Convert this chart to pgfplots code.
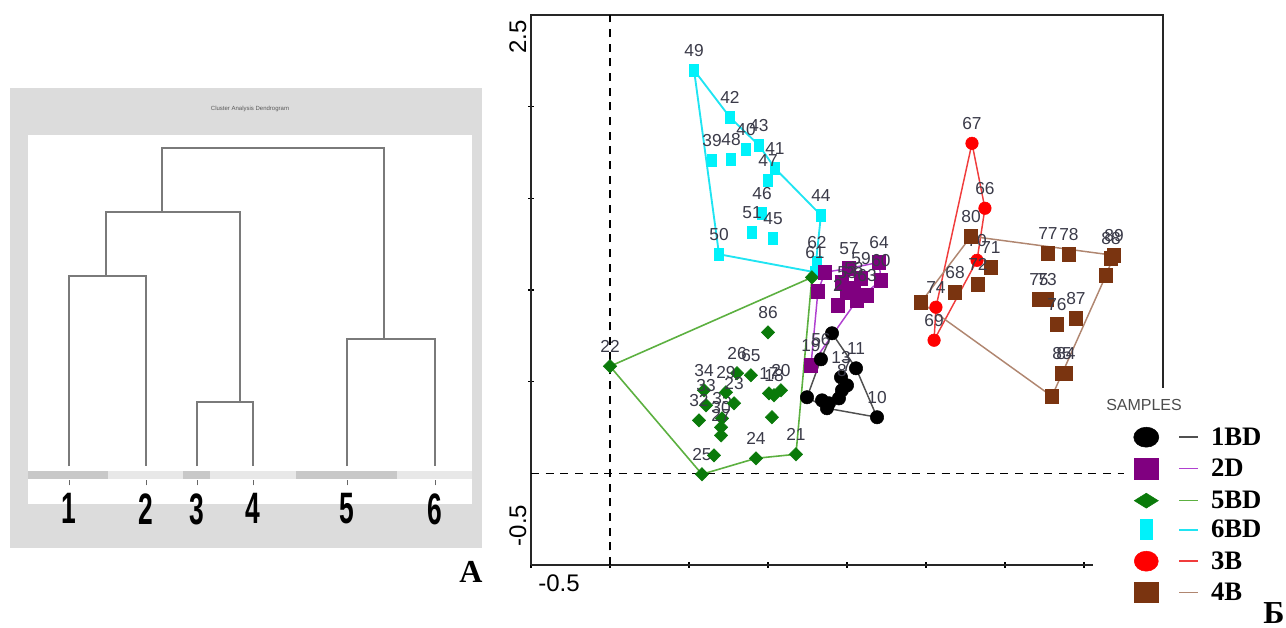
\documentclass[border=0pt]{standalone}
\usepackage{fontspec}
\setmainfont{Liberation Sans}
\newfontfamily\serifb{Liberation Serif}
\usepackage{graphicx}
\usepackage{pgfplots}
\pgfplotsset{compat=1.18}
\definecolor{panelgray}{HTML}{DCDCDC}
\definecolor{bardark}{HTML}{C8C8C8}
\definecolor{barlight}{HTML}{E8E8E8}
\definecolor{dendline}{HTML}{7A7A7A}
\definecolor{pur}{HTML}{800080}
\definecolor{grn}{HTML}{0A7A0A}
\definecolor{cya}{HTML}{00F2FA}
\definecolor{rd}{HTML}{FF0000}
\definecolor{brn}{HTML}{7A3410}
\definecolor{blkline}{HTML}{505050}
\definecolor{purline}{HTML}{B040D0}
\definecolor{grnline}{HTML}{5CB040}
\definecolor{cyaline}{HTML}{20E4F2}
\definecolor{rdline}{HTML}{F03C3C}
\definecolor{brnline}{HTML}{B08670}
\definecolor{labc}{HTML}{3A3A48}
\begin{document}
\begin{tikzpicture}
\useasboundingbox (0pt,0pt) rectangle (964.5pt,-471pt);
% left panel background
\fill[panelgray] (7.5pt,-66pt) rectangle (361.5pt,-411pt);
\fill[white] (21pt,-101.25pt) rectangle (354pt,-378pt);
\node[font=\fontsize{4.5}{5}\selectfont, text=black!65] at (187.5pt,-81.75pt) {Cluster Analysis Dendrogram};
% dendrogram
\begin{axis}[at={(21pt,-360pt)}, anchor=south west, scale only axis,
  width=333pt, height=258.75pt, xmin=0, xmax=444, ymin=0, ymax=345,
  axis line style={draw=none}, ytick=\empty,
  xtick={41,118,169,225,319,407},
  xticklabels={\scalebox{0.6}[1]{1},\scalebox{0.6}[1]{2},\scalebox{0.6}[1]{3},\scalebox{0.6}[1]{4},\scalebox{0.6}[1]{5},\scalebox{0.6}[1]{6}},
  tick pos=left, tick align=outside, major tick length=4pt,
  tick style={black!60, line width=0.7pt},
  xticklabel style={font=\bfseries\fontsize{33}{33}\selectfont, inner sep=0pt, yshift=-6pt},
  clip=false]
\addplot[fill=bardark, draw=none] coordinates {(0,1)(80,1)(80,9)(0,9)} -- cycle;
\addplot[fill=barlight, draw=none] coordinates {(80,1)(155,1)(155,9)(80,9)} -- cycle;
\addplot[fill=bardark, draw=none] coordinates {(155,1)(182,1)(182,9)(155,9)} -- cycle;
\addplot[fill=barlight, draw=none] coordinates {(182,1)(268,1)(268,9)(182,9)} -- cycle;
\addplot[fill=bardark, draw=none] coordinates {(268,1)(369,1)(369,9)(268,9)} -- cycle;
\addplot[fill=barlight, draw=none] coordinates {(369,1)(444,1)(444,9)(369,9)} -- cycle;
\addplot[dendline, line width=1.1pt] coordinates {(41,14)(41,204)(118,204)(118,14)};
\addplot[dendline, line width=1.1pt] coordinates {(169,14)(169,78)(225,78)(225,14)};
\addplot[dendline, line width=1.1pt] coordinates {(78,204)(78,268)(212,268)(212,78)};
\addplot[dendline, line width=1.1pt] coordinates {(319,14)(319,141)(407,141)(407,14)};
\addplot[dendline, line width=1.1pt] coordinates {(134,268)(134,332)(356,332)(356,141)};
\end{axis}
% ordination plot
\begin{axis}[at={(398.25pt,-423.75pt)}, anchor=south west, scale only axis,
  width=474pt, height=412.5pt,
  xmin=-0.5, xmax=3.5, ymin=-0.5, ymax=2.5, clip=false,
  axis line style={draw=none},
  tick pos=left, tick align=center, major tick length=4pt,
  tick style={black, line width=0.8pt},
  xtick={-0.5,0,0.5,1,1.5,2,2.5,3}, xticklabels={,,},
  ytick={0.5,1,1.5,2}, yticklabels={,,},
  extra x ticks={-0.323}, extra x tick labels={-0.5},
  extra y ticks={-0.284,2.379}, extra y tick labels={-0.5,2.5},
  extra x tick style={major tick length=0pt},
  extra y tick style={major tick length=0pt},
  ticklabel style={font=\fontsize{18}{18}\selectfont},
  xticklabel style={yshift=-4pt},
  yticklabel style={rotate=90, anchor=south},
  nodes near coords, point meta=explicit symbolic,
  every node near coord/.append style={font=\fontsize{13}{13}\selectfont, text=labc, anchor=base, inner sep=0pt, yshift=10.5pt},
  legend cell align=left,
  legend style={at={(0.9533,0.252)}, anchor=north west, draw=none, fill=none,
    inner sep=0pt, outer sep=0pt, row sep=7.8pt, column sep=9pt,
    nodes={inner sep=0pt, text height=14pt, text depth=0pt},
    font=\serifb\bfseries\fontsize{20}{20}\selectfont},
]
% frame and reference lines
\draw[black!85, line width=1.5pt] (axis cs:-0.5,-0.5) -- (axis cs:-0.5,2.5) -- (axis cs:3.5,2.5) -- (axis cs:3.5,0.464);
\draw[black!85, line width=1.5pt] (axis cs:-0.5,-0.5) -- (axis cs:3.06,-0.5);
\addplot[black, dashed, line width=1.2pt, forget plot, dash pattern=on 6pt off 5pt] coordinates {(0,-0.5)(0,2.5)};
\addplot[black, dashed, line width=1.2pt, forget plot, dash pattern=on 6pt off 5pt] coordinates {(-0.5,0)(3.25,0)};
% hulls
\addplot[cyaline, line width=1.4pt, forget plot] coordinates {(0.532,2.199)(0.759,1.942)(0.943,1.789)(1.044,1.664)(1.335,1.408)(1.297,1.097)(0.690,1.195)(0.532,2.199)};
\addplot[grnline, line width=1.2pt, forget plot] coordinates {(0.0,0.584)(1.278,1.069)(1.177,0.104)(0.924,0.082)(0.582,-0.005)(0.0,0.584)};
\addplot[purline, line width=1.1pt, forget plot] coordinates {(1.272,0.589)(1.316,0.993)(1.361,1.097)(1.513,1.118)(1.703,1.151)(1.715,1.053)(1.563,0.944)(1.272,0.589)};
\addplot[blkline, line width=1.1pt, forget plot] coordinates {(1.405,0.764)(1.557,0.573)(1.690,0.306)(1.373,0.355)(1.247,0.415)(1.335,0.622)(1.405,0.764)};
\addplot[rdline, line width=1.1pt, forget plot] coordinates {(2.291,1.800)(2.373,1.446)(2.323,1.162)(2.051,0.726)(2.063,0.906)(2.291,1.800)};
\addplot[brnline, line width=1.1pt, forget plot] coordinates {(2.285,1.293)(3.190,1.189)(3.139,1.080)(2.797,0.420)(1.968,0.933)(2.285,1.293)};
% 6BD
\addplot[only marks, mark=square*, mark size=3.3pt, cya, mark options={yscale=1.45}, forget plot] table[meta=lab] {
x y lab
0.532 2.199 49
0.759 1.942 42
0.861 1.768 40
0.943 1.789 43
0.646 1.708 39
0.766 1.713 48
1.044 1.664 41
1.000 1.598 47
1.335 1.408 44
0.962 1.418 46
0.899 1.315 51
1.032 1.282 45
0.690 1.195 50
1.310 1.151 62
1.297 1.097 61
};
% 5BD
\addplot[only marks, mark=diamond*, mark size=5pt, grn, mark options={xscale=1.33}, forget plot] table[meta=lab] {
x y lab
0.000 0.584 22
1.000 0.769 86
1.177 0.104 21
0.924 0.082 24
0.582 -0.005 25
0.595 0.453 34
0.608 0.371 33
0.563 0.289 32
0.709 0.300 35
0.703 0.251 30
0.703 0.207 27
0.804 0.546 26
0.892 0.535 65
0.734 0.442 29
0.785 0.382 23
1.006 0.436 17
1.038 0.426 18
1.082 0.453 20
};
\addplot[only marks, mark=diamond*, mark size=5pt, grn, mark options={xscale=1.33}, nodes near coords=, forget plot] coordinates {(1.278,1.069)(0.658,0.098)(1.025,0.306)};
% 2D
\addplot[only marks, mark=square*, mark size=5pt, pur, nodes near coords=, forget plot] coordinates {(1.361,1.097)(1.316,0.993)(1.563,0.944)(1.468,1.042)};
\addplot[only marks, mark=square*, mark size=5pt, pur, forget plot] table[meta=lab] {
x y lab
1.513 1.118 57
1.703 1.151 64
1.715 1.053 60
1.589 1.064 59
1.544 1.009 58
1.627 0.971 63
1.500 0.987 53
1.443 0.917 2
1.272 0.589 19
};
% 1BD
\addplot[only marks, mark=*, mark size=5pt, black, nodes near coords=, forget plot] coordinates {(1.405,0.764)(1.449,0.409)(1.247,0.415)(1.342,0.398)(1.373,0.355)(1.386,0.382)};
\addplot[only marks, mark=*, mark size=5pt, black, forget plot] table[meta=lab] {
x y lab
1.335 0.622 56
1.557 0.573 11
1.500 0.480 7
1.462 0.524 13
1.468 0.453 8
1.690 0.306 10
};
% 3B
\addplot[only marks, mark=*, mark size=4.7pt, rd, forget plot] table[meta=lab] {
x y lab
2.291 1.800 67
2.373 1.446 66
2.323 1.162 70
2.063 0.906 74
2.051 0.726 69
};
% 4B
\addplot[only marks, mark=square*, mark size=5pt, brn, nodes near coords=, forget plot] coordinates {(1.968,0.933)(3.139,1.080)(2.797,0.420)};
\addplot[only marks, mark=square*, mark size=5pt, brn, forget plot] table[meta=lab] {
x y lab
2.285 1.293 80
2.411 1.124 71
2.329 1.031 72
2.184 0.987 68
2.772 1.200 77
2.905 1.195 78
3.190 1.189 89
3.171 1.173 88
2.715 0.949 75
2.766 0.949 73
2.829 0.813 76
2.949 0.846 87
2.861 0.546 85
2.886 0.546 84
};
\node[font=\fontsize{12}{12}\selectfont, text=black!70] at (axis cs:3.38,0.371) {SAMPLES};
% legend
\addlegendimage{legend image code/.code={\fill[black] (0pt,-1.1pt) ellipse [x radius=9.4pt, y radius=7.5pt]; \draw[blkline,line width=1.2pt] (24.75pt,-1.1pt)--(39pt,-1.1pt);}}
\addlegendentry{1BD}
\addlegendimage{legend image code/.code={\fill[pur] (-9pt,-9pt) rectangle (9pt,6.8pt); \draw[purline,line width=1.2pt] (24.75pt,-1.1pt)--(39pt,-1.1pt);}}
\addlegendentry{2D}
\addlegendimage{legend image code/.code={\fill[grn] (-9pt,-1.1pt)--(0pt,4.5pt)--(9pt,-1.1pt)--(0pt,-6.7pt)--cycle; \draw[grnline,line width=1.2pt] (24.75pt,-1.1pt)--(39pt,-1.1pt);}}
\addlegendentry{5BD}
\addlegendimage{legend image code/.code={\fill[cya] (-4.5pt,-8.6pt) rectangle (4.5pt,6.4pt); \draw[cyaline,line width=1.2pt] (24.75pt,-1.1pt)--(39pt,-1.1pt);}}
\addlegendentry{6BD}
\addlegendimage{legend image code/.code={\fill[rd] (0pt,-1.1pt) ellipse [x radius=9pt, y radius=7.5pt]; \draw[rdline,line width=1.2pt] (24.75pt,-1.1pt)--(39pt,-1.1pt);}}
\addlegendentry{3B}
\addlegendimage{legend image code/.code={\fill[brn] (-9pt,-8.6pt) rectangle (9pt,6.4pt); \draw[brnline,line width=1.2pt] (24.75pt,-1.1pt)--(39pt,-1.1pt);}}
\addlegendentry{4B}
\end{axis}
\node[font=\serifb\bfseries\fontsize{24}{24}\selectfont] at (353.25pt,-429pt) {A};
\node[font=\serifb\bfseries\fontsize{24}{24}\selectfont] at (955.5pt,-459.75pt) {Б};
\end{tikzpicture}
\end{document}
